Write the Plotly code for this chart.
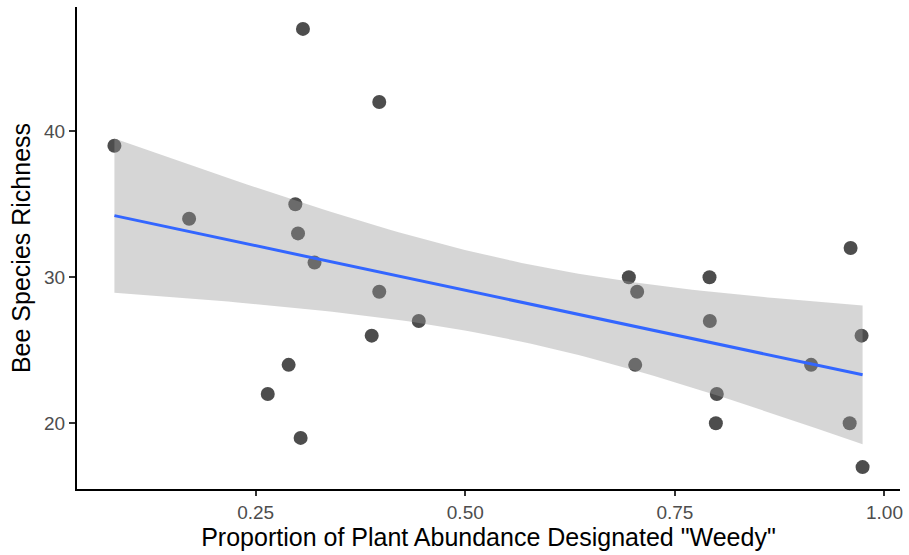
import numpy as np
import plotly.graph_objects as go

# Data
weedy = [0.0815, 0.1706, 0.2973, 0.3005, 0.3202, 0.3064, 0.3974,
         0.3974, 0.3884, 0.4445, 0.2893, 0.2644, 0.3036,
         0.6951, 0.7050, 0.7027, 0.7913, 0.7917, 0.8000, 0.7989,
         0.9125, 0.9596, 0.9585, 0.9727, 0.9739]
richness = [39, 34, 35, 33, 31, 47, 42,
            29, 26, 27, 24, 22, 19,
            30, 29, 24, 30, 27, 22, 20,
            24, 32, 20, 26, 17]
x_ticks = [0.25, 0.50, 0.75, 1.00]
x_tick_labels = ["0.25", "0.50", "0.75", "1.00"]
y_ticks = [20, 30, 40]
y_tick_labels = ["20", "30", "40"]
x_title = 'Proportion of Plant Abundance Designated "Weedy"'
y_title = "Bee Species Richness"

# Linear fit with 95% confidence band (as geom_smooth(method="lm"))
x = np.array(weedy)
y = np.array(richness, dtype=float)
n = len(x)
slope, intercept = np.polyfit(x, y, 1)
resid = y - (intercept + slope * x)
s = np.sqrt(np.sum(resid ** 2) / (n - 2))
sxx = np.sum((x - x.mean()) ** 2)
t_crit = 2.0687  # t(0.975, df=23)
xs = np.linspace(x.min(), x.max(), 80)
ys = intercept + slope * xs
se = s * np.sqrt(1.0 / n + (xs - x.mean()) ** 2 / sxx)
lo = ys - t_crit * se
hi = ys + t_crit * se

xr = [x.min() - 0.05 * (x.max() - x.min()), x.max() + 0.05 * (x.max() - x.min())]
yr = [y.min() - 0.05 * (y.max() - y.min()), y.max() + 0.05 * (y.max() - y.min())]

font = "Liberation Sans, Arial, sans-serif"

fig = go.Figure()
fig.add_trace(go.Scatter(x=weedy, y=richness, mode="markers",
                         marker=dict(size=14, color="#4d4d4d", line=dict(width=0)),
                         showlegend=False, hoverinfo="skip"))
fig.add_trace(go.Scatter(x=xs, y=lo, mode="lines", line=dict(width=0),
                         showlegend=False, hoverinfo="skip"))
fig.add_trace(go.Scatter(x=xs, y=hi, mode="lines", line=dict(width=0),
                         fill="tonexty", fillcolor="rgba(153,153,153,0.4)",
                         showlegend=False, hoverinfo="skip"))
fig.add_trace(go.Scatter(x=xs, y=ys, mode="lines",
                         line=dict(color="#3366FF", width=3),
                         showlegend=False, hoverinfo="skip"))

fig.update_layout(
    width=909, height=555,
    margin=dict(l=77, r=6, t=7, b=66),
    paper_bgcolor="white", plot_bgcolor="white",
    font=dict(family=font),
    xaxis=dict(range=xr, tickvals=x_ticks, ticktext=x_tick_labels,
               showgrid=False, zeroline=False,
               showline=True, linecolor="black", linewidth=2,
               ticks="outside", ticklen=5, tickwidth=1.5, tickcolor="#333333",
               tickfont=dict(size=19, color="#4d4d4d", family=font),
               title=dict(text=x_title, font=dict(size=25, color="black", family=font),
                          standoff=4)),
    yaxis=dict(range=yr, tickvals=y_ticks, ticktext=y_tick_labels,
               showgrid=False, zeroline=False,
               showline=True, linecolor="black", linewidth=2,
               ticks="outside", ticklen=6, tickwidth=1.5, tickcolor="#333333",
               tickfont=dict(size=19, color="#4d4d4d", family=font),
               title=dict(text=y_title, font=dict(size=25, color="black", family=font),
                          standoff=6)),
)

fig.write_html("out.html")
